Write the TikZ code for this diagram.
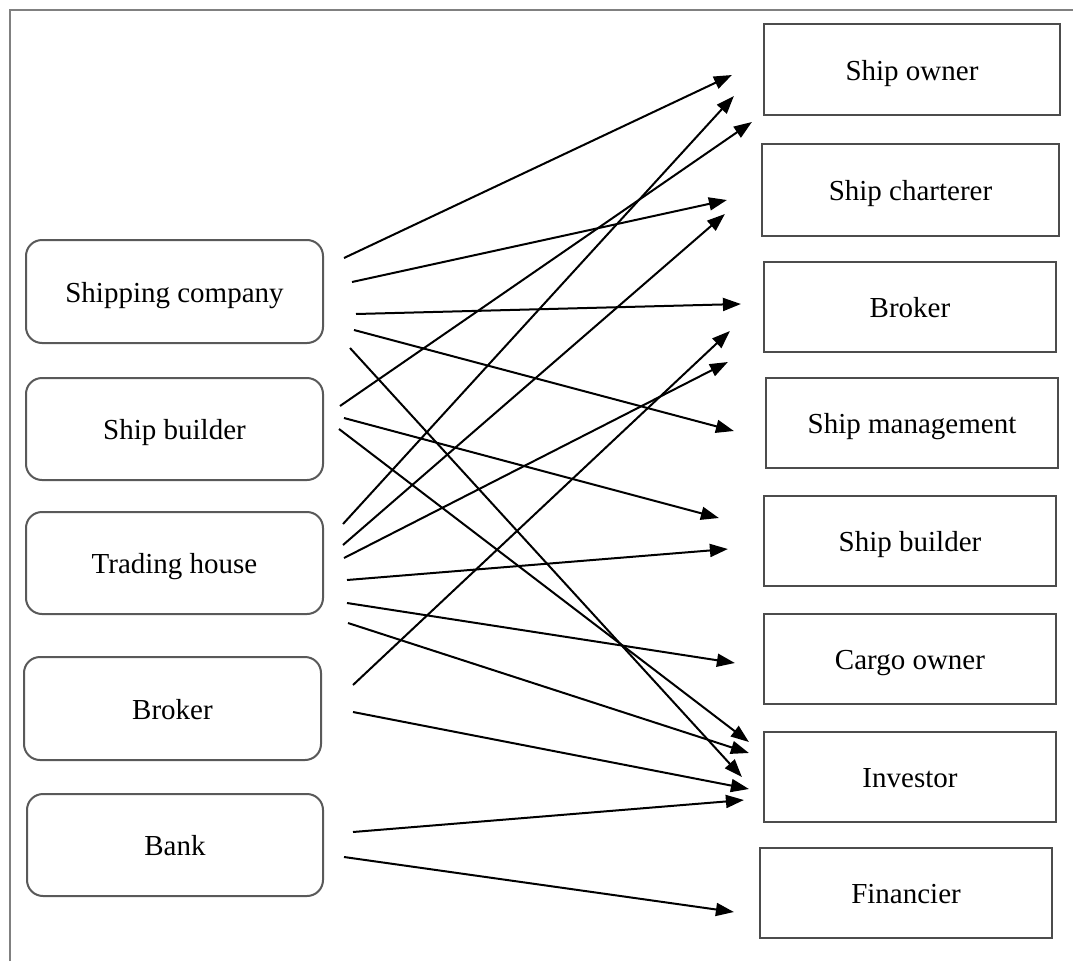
\documentclass[tikz,border=0pt]{standalone}
\usepackage{fontspec}
\setmainfont{Liberation Serif}
\usetikzlibrary{arrows.meta}
\begin{document}
\begin{tikzpicture}[x=1pt,y=-1pt,
  lbox/.style={draw=black!65,line width=2pt,rounded corners=16pt,inner sep=0pt,text height=27pt,text depth=6pt,font=\fontsize{29}{34}\selectfont},
  rbox/.style={draw=black!70,line width=2.2pt,inner sep=0pt,text height=27pt,text depth=6pt,font=\fontsize{29}{34}\selectfont},
  arr/.style={line width=2pt,-{Triangle[length=18pt,width=13pt]}}]
\useasboundingbox (0,0) rectangle (1073,961);
\fill[white] (0,0) rectangle (1073,961);
\draw[black!50,line width=1.5pt] (10,961) -- (10,10) -- (1073,10);
% left boxes
\node[lbox,minimum width=297pt,minimum height=103pt] (sc) at (174.5,291.5) {Shipping company};
\node[lbox,minimum width=297pt,minimum height=102pt] (sbl) at (174.5,429) {Ship builder};
\node[lbox,minimum width=297pt,minimum height=102pt] (th) at (174.5,563) {Trading house};
\node[lbox,minimum width=297pt,minimum height=103pt] (brl) at (172.5,708.5) {Broker};
\node[lbox,minimum width=296pt,minimum height=102pt] (bank) at (175,845) {Bank};
% right boxes
\node[rbox,minimum width=296pt,minimum height=91pt] (so) at (912,69.5) {Ship owner};
\node[rbox,minimum width=297pt,minimum height=92pt] (ch) at (910.5,190) {Ship charterer};
\node[rbox,minimum width=292pt,minimum height=90pt] (brr) at (910,307) {Broker};
\node[rbox,minimum width=292pt,minimum height=90pt] (sm) at (912,423) {Ship management};
\node[rbox,minimum width=292pt,minimum height=90pt] (sbr) at (910,541) {Ship builder};
\node[rbox,minimum width=292pt,minimum height=90pt] (co) at (910,659) {Cargo owner};
\node[rbox,minimum width=292pt,minimum height=90pt] (inv) at (910,777) {Investor};
\node[rbox,minimum width=292pt,minimum height=90pt] (fin) at (906,893) {Financier};
% Shipping company
\draw[arr] ([shift={(20,-33.5)}]sc.east) -- ([shift={(-31,5.5)}]so.west);
\draw[arr] ([shift={(28,-9.5)}]sc.east) -- ([shift={(-34,10)}]ch.west);
\draw[arr] ([shift={(32,22.5)}]sc.east) -- ([shift={(-22,-3)}]brr.west);
\draw[arr] ([shift={(30,38.5)}]sc.east) -- ([shift={(-31,8)}]sm.west);
\draw[arr] ([shift={(26,56.5)}]sc.east) -- ([shift={(-21,0)}]inv.west);
% Ship builder
\draw[arr] ([shift={(16,-23)}]sbl.east) -- ([shift={(-11,52.5)}]so.west);
\draw[arr] ([shift={(20,-11)}]sbl.east) -- ([shift={(-44,-23)}]sbr.west);
\draw[arr] ([shift={(15,0)}]sbl.east) -- ([shift={(-14,-35)}]inv.west);
% Trading house
\draw[arr] ([shift={(19,-39)}]th.east) -- ([shift={(-29,26.5)}]so.west);
\draw[arr] ([shift={(19,-18)}]th.east) -- ([shift={(-36,24)}]ch.west);
\draw[arr] ([shift={(20,-5)}]th.east) -- ([shift={(-35,55)}]brr.west);
\draw[arr] ([shift={(23,17)}]th.east) -- ([shift={(-35,8)}]sbr.west);
\draw[arr] ([shift={(23,40)}]th.east) -- ([shift={(-28,4)}]co.west);
\draw[arr] ([shift={(24,60)}]th.east) -- ([shift={(-14,-24)}]inv.west);
% Broker
\draw[arr] ([shift={(31,-23.5)}]brl.east) -- ([shift={(-33,24)}]brr.west);
\draw[arr] ([shift={(31,3.5)}]brl.east) -- ([shift={(-14,12)}]inv.west);
% Bank
\draw[arr] ([shift={(29,-13)}]bank.east) -- ([shift={(-19,23)}]inv.west);
\draw[arr] ([shift={(20,12)}]bank.east) -- ([shift={(-25,19)}]fin.west);
\end{tikzpicture}
\end{document}
